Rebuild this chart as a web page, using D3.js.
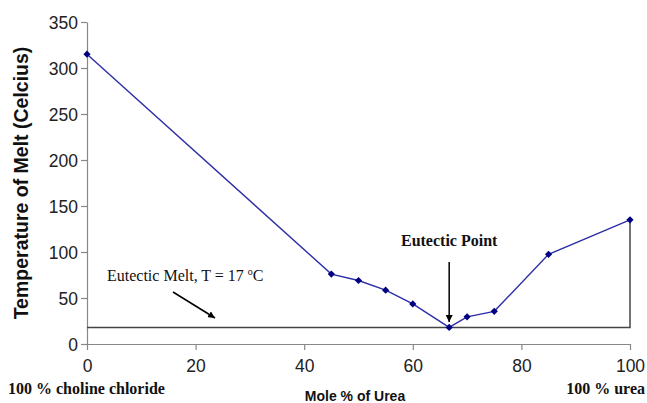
<!DOCTYPE html>
<html>
<head>
<meta charset="utf-8">
<script src="https://cdn.jsdelivr.net/npm/d3@7"></script>
<style>
  body { margin: 0; background: #fff; }
  .tick text { font-family: Arial, "Liberation Sans", sans-serif; font-size: 17.5px; fill: #222; }
</style>
</head>
<body>
<div class="chart"></div>
<script>
// data
var moleUrea = [0, 45, 50, 55, 60, 66.7, 70, 75, 85, 100];
var meltTemp = [315, 76, 69, 58.5, 43.5, 18, 29.5, 35.5, 97.5, 135];
var eutecticT = 18;
var xTicks = [0, 20, 40, 60, 80, 100];
var yTicks = [0, 50, 100, 150, 200, 250, 300, 350];

var svgWidth = 647, svgHeight = 403;
var margin = { top: 22, right: 17, bottom: 59, left: 87 };
var width = svgWidth - margin.left - margin.right;
var height = svgHeight - margin.top - margin.bottom;

var svg = d3.select(".chart").append("svg")
  .attr("width", svgWidth)
  .attr("height", svgHeight);

var defs = svg.append("defs");
defs.append("marker")
  .attr("id", "arrow")
  .attr("viewBox", "0 0 10 10")
  .attr("refX", 10).attr("refY", 5)
  .attr("markerWidth", 7).attr("markerHeight", 7)
  .attr("markerUnits", "userSpaceOnUse")
  .attr("orient", "auto")
  .append("path")
  .attr("d", "M0,0 L10,5 L0,10 z")
  .attr("fill", "#000");

var chartGroup = svg.append("g")
  .attr("transform", `translate(${margin.left}, ${margin.top})`);

var xScale = d3.scaleLinear().domain([0, 100]).range([0, width]);
var yScale = d3.scaleLinear().domain([0, 350]).range([height, 0]);

// axes
var xAxis = chartGroup.append("g")
  .attr("transform", `translate(0, ${height})`)
  .call(d3.axisBottom(xScale).tickValues(xTicks).tickSize(6).tickSizeOuter(0).tickPadding(6));
var yAxis = chartGroup.append("g")
  .call(d3.axisLeft(yScale).tickValues(yTicks).tickSize(6).tickSizeOuter(0).tickPadding(3));
chartGroup.selectAll(".domain, .tick line").attr("stroke", "#888").attr("stroke-width", 1.2);
xAxis.selectAll(".tick text").attr("dy", "0.9em");
yAxis.selectAll(".tick text").attr("dy", "0.36em");

// eutectic melt line, closed by a drop line at 100 %
var meltLine = [[0, eutecticT], [100, eutecticT], [100, meltTemp[meltTemp.length - 1]]];
chartGroup.append("path")
  .datum(meltLine)
  .attr("fill", "none")
  .attr("stroke", "#444")
  .attr("stroke-width", 1.5)
  .attr("d", d3.line().x(d => xScale(d[0])).y(d => yScale(d[1])));

// melting curve
var pts = moleUrea.map((m, i) => ({ x: m, y: meltTemp[i] }));
chartGroup.append("path")
  .datum(pts)
  .attr("fill", "none")
  .attr("stroke", "#2e2ea6")
  .attr("stroke-width", 1.4)
  .attr("d", d3.line().x(d => xScale(d.x)).y(d => yScale(d.y)));

chartGroup.selectAll(".pt")
  .data(pts)
  .enter()
  .append("path")
  .attr("class", "pt")
  .attr("d", d3.symbol().type(d3.symbolSquare).size(26))
  .attr("transform", d => `translate(${xScale(d.x)}, ${yScale(d.y)}) rotate(45)`)
  .attr("fill", "#000080");

// annotations
svg.append("text")
  .attr("x", 107).attr("y", 281)
  .attr("font-family", "'Liberation Serif', 'Times New Roman', serif")
  .attr("font-size", 16)
  .attr("fill", "#111")
  .html('Eutectic Melt, T = 17 <tspan dy="-6" font-size="10">o</tspan><tspan dy="6">C</tspan>');
svg.append("line")
  .attr("x1", 173).attr("y1", 292)
  .attr("x2", 215).attr("y2", 318)
  .attr("stroke", "#000").attr("stroke-width", 1.5)
  .attr("marker-end", "url(#arrow)");

var eut = pts[5];
svg.append("text")
  .attr("x", margin.left + xScale(eut.x)).attr("y", 246)
  .attr("text-anchor", "middle")
  .attr("font-family", "'Liberation Serif', 'Times New Roman', serif")
  .attr("font-weight", "bold")
  .attr("font-size", 16)
  .attr("fill", "#111")
  .text("Eutectic Point");
svg.append("line")
  .attr("x1", margin.left + xScale(eut.x)).attr("y1", 262)
  .attr("x2", margin.left + xScale(eut.x)).attr("y2", 322)
  .attr("stroke", "#000").attr("stroke-width", 1.5)
  .attr("marker-end", "url(#arrow)");

// axis titles
svg.append("text")
  .attr("transform", `translate(28, ${margin.top + height / 2}) rotate(-90)`)
  .attr("text-anchor", "middle")
  .attr("font-family", "Arial, 'Liberation Sans', sans-serif")
  .attr("font-weight", "bold")
  .attr("font-size", 19.5)
  .attr("fill", "#111")
  .text("Temperature of Melt (Celcius)");

svg.append("text")
  .attr("x", 355).attr("y", 401)
  .attr("text-anchor", "middle")
  .attr("font-family", "Arial, 'Liberation Sans', sans-serif")
  .attr("font-weight", "bold")
  .attr("font-size", 14)
  .attr("fill", "#111")
  .text("Mole % of Urea");

svg.append("text")
  .attr("x", 8).attr("y", 394)
  .attr("font-family", "'Liberation Serif', 'Times New Roman', serif")
  .attr("font-weight", "bold")
  .attr("font-size", 16)
  .attr("fill", "#111")
  .text("100 % choline chloride");

svg.append("text")
  .attr("x", 645).attr("y", 394)
  .attr("text-anchor", "end")
  .attr("font-family", "'Liberation Serif', 'Times New Roman', serif")
  .attr("font-weight", "bold")
  .attr("font-size", 16)
  .attr("fill", "#111")
  .text("100 % urea");
</script>
</body>
</html>
